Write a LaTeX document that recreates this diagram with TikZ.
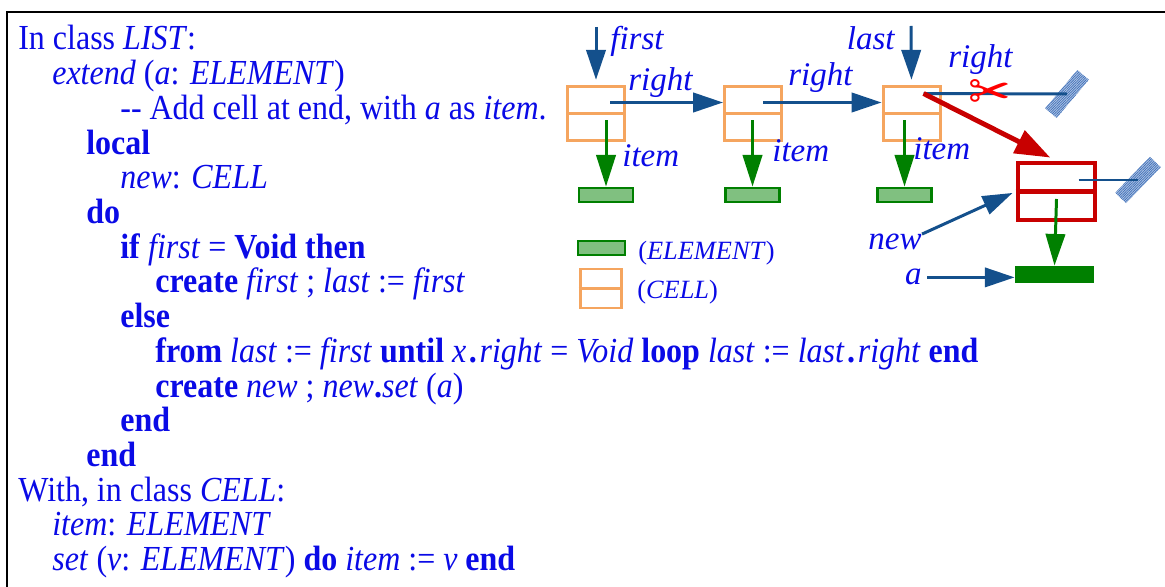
\documentclass[tikz,border=0pt]{standalone}
\usepackage{fontspec}
\setmainfont{Liberation Serif}
\newfontfamily\symfont{DejaVu Sans}
\usetikzlibrary{arrows.meta,calc,patterns.meta}
\definecolor{codeblue}{RGB}{10,10,230}
\definecolor{ptrblue}{RGB}{20,80,140}
\definecolor{cellorange}{RGB}{245,165,95}
\definecolor{itemgreen}{RGB}{0,128,0}
\definecolor{itemfill}{RGB}{128,192,128}
\definecolor{newred}{RGB}{200,0,0}
\definecolor{wallblue}{RGB}{60,110,185}
\def\codesize{\fontsize{18.2pt}{20pt}\selectfont}
\def\dotsel{\kern1.5pt\textbf{.}\kern1.5pt}
\tikzset{
  code/.style={anchor=base west, inner sep=0pt, text=codeblue, font=\codesize, yscale=1.1},
  lbl/.style={inner sep=0pt, text=codeblue, font=\fontsize{18.8pt}{20pt}\selectfont\itshape},
  legend/.style={anchor=base west, inner sep=0pt, text=codeblue, font=\fontsize{15pt}{17pt}\selectfont},
  cell/.style={draw=cellorange, line width=1.7pt, minimum width=1.14cm, minimum height=1.08cm, inner sep=0pt},
  elem/.style={draw=itemgreen, fill=itemfill, line width=1.6pt, minimum width=1.08cm, minimum height=0.28cm, inner sep=0pt},
  wall/.style={minimum width=1.0cm, minimum height=0.3cm, inner sep=0pt, fill=wallblue!40,
    postaction={pattern color=wallblue, pattern={Lines[angle=45,distance=1pt,line width=0.4pt]}}},
  ptr/.style={ptrblue, line width=1.7pt, -{Triangle[length=17pt,width=11pt]}},
  itm/.style={itemgreen, line width=1.7pt, -{Triangle[length=18pt,width=11pt]}}
}
\begin{document}
\begin{tikzpicture}[x=0.02cm, y=-0.02cm]
  \useasboundingbox (0,0) rectangle (1165,587);
  \draw[line width=1.3pt] (1165,12) -- (7,12) -- (7,587);

  % the routine
  \node[code] (line0) at (18,50) {In class \textit{LIST}:};
  \node[code] (line1) at (52,84.7) {\textit{extend} (\textit{a}: \textit{ELEMENT})};
  \node[code] (line2) at (120,119.4) {-{}- Add cell at end, with \textit{a} as \textit{item}.};
  \node[code] (line3) at (86,154.1) {\textbf{local}};
  \node[code] (line4) at (120,188.8) {\textit{new}: \textit{CELL}};
  \node[code] (line5) at (86,223.5) {\textbf{do}};
  \node[code] (line6) at (120,258.2) {\textbf{if} \textit{first} = \textbf{Void then}};
  \node[code] (line7) at (155,292.9) {\textbf{create} \textit{first} ; \textit{last} := \textit{first}};
  \node[code] (line8) at (120,327.6) {\textbf{else}};
  \node[code] (line9) at (155,362.3) {\textbf{from} \textit{last} := \textit{first} \textbf{until} \textit{x}\dotsel\textit{right} = \textit{Void} \textbf{loop} \textit{last} := \textit{last}\dotsel\textit{right} \textbf{end}};
  \node[code] (line10) at (155,397) {\textbf{create} \textit{new} ; \textit{new}\textbf{.}\textit{set} (\textit{a})};
  \node[code] (line11) at (120,431.7) {\textbf{end}};
  \node[code] (line12) at (86,466.4) {\textbf{end}};
  \node[code] (line13) at (18,501.1) {With, in class \textit{CELL}:};
  \node[code] (line14) at (52,535.8) {\textit{item}: \textit{ELEMENT}};
  \node[code] (line15) at (52,570.5) {\textit{set} (\textit{v}: \textit{ELEMENT}) \textbf{do} \textit{item} := \textit{v} \textbf{end}};

  % the cells
  \node[cell] (c1) at (596,113.5) {};
  \node[cell] (c2) at (753,113.5) {};
  \node[cell] (c3) at (911.5,113.5) {};
  \draw[cellorange, line width=1.7pt] (c1.west) -- (c1.east) (c2.west) -- (c2.east) (c3.west) -- (c3.east);
  \node[elem] (e1) at (606,195) {};
  \node[elem] (e2) at (752.5,195) {};
  \node[elem] (e3) at (904.5,195) {};

  \node[lbl, anchor=base west] (lfirst) at (610,50) {first};
  \node[lbl, anchor=base east] (llast) at (895,50) {last};
  \coordinate (pfirst) at (596,27);
  \coordinate (plast) at (911,26);
  \draw[ptr, shorten >=3pt] (pfirst) -- (c1.north);
  \draw[ptr, shorten >=3pt] (plast) -- (c3.north);

  \coordinate (r1) at ($(c1.center)+(14,-11)$);
  \coordinate (r2) at ($(c2.center)+(10,-11)$);
  \draw[ptr] (r1) -- (r1 -| c2.west);
  \draw[ptr] (r2) -- (r2 -| c3.west);
  \node[lbl, anchor=base west] (lright1) at (628,91) {right};
  \node[lbl, anchor=base west] (lright2) at (788,86) {right};

  \draw[itm] ($(e1.north |- c1.center)+(0,7)$) -- (e1.north);
  \draw[itm] ($(e2.north |- c2.center)+(0,7)$) -- (e2.north);
  \draw[itm] ($(e3.north |- c3.center)+(0,7)$) -- (e3.north);
  \node[lbl, anchor=base west] (litem1) at (622,167) {item};
  \node[lbl, anchor=base west] (litem2) at (772,162) {item};
  \node[lbl, anchor=base west] (litem3) at (913,160) {item};

  % the new cell
  \node[cell, draw=newred, line width=2.6pt, minimum width=1.54cm, minimum height=1.14cm] (cnew) at (1056.5,191.5) {};
  \draw[newred, line width=2.6pt] (cnew.west) -- (cnew.east);
  \node[elem, fill=itemgreen, minimum width=1.54cm, minimum height=0.3cm] (enew) at (1054.5,274.5) {};
  \node[wall, rotate=50] (w1) at (1067,94) {};
  \node[wall, rotate=46] (w2) at (1138,180) {};

  \coordinate (r3) at ($(c3.center)+(12,-20)$);
  \draw[ptrblue, line width=1.7pt] (r3) -- (w1.center);
  \node[text=red, font=\symfont\fontsize{29pt}{29pt}\selectfont, inner sep=0pt] (cut) at (990,95) {✂};
  \node[lbl, anchor=base west] (lright3) at (948,68) {right};
  \draw[newred, line width=2.8pt, -{Triangle[length=20pt,width=14pt]}, shorten >=4pt] (r3) -- (cnew.north);
  \draw[ptrblue, line width=1.7pt] ($(cnew.center)+(22,-11.5)$) -- (w2.center);
  \draw[itm] ($(cnew.center)+(0,7.5)$) -- (enew.north);

  \node[lbl, anchor=base east] (lnew) at (922,250) {new};
  \node[lbl, anchor=base east] (la) at (922,285) {a};
  \draw[ptr, shorten >=2pt] (lnew.north east) -- (cnew.west);
  \draw[ptr, shorten <=3pt] (la.east) -- (la.east -| enew.west);

  % legend
  \node[elem, minimum width=0.94cm] (legelem) at (601.5,248) {};
  \node[cell, minimum width=0.82cm, minimum height=0.78cm] (legcell) at (600.5,288.5) {};
  \draw[cellorange, line width=1.7pt] (legcell.west) -- (legcell.east);
  \node[legend] (telem) at (638,260) {(\textit{ELEMENT})};
  \node[legend] (tcell) at (637,298) {(\textit{CELL})};
\end{tikzpicture}
\end{document}
